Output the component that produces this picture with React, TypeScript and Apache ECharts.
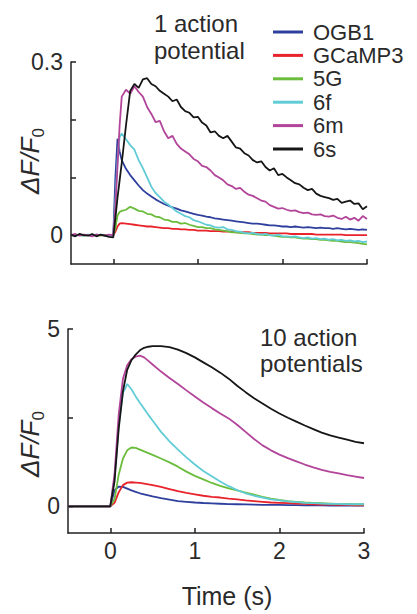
import React, { useEffect, useRef } from "react";
import * as echarts from "echarts";

const FONT = '"Liberation Sans", Arial, Helvetica, sans-serif';

const NAMES = ["OGB1", "GCaMP3", "5G", "6f", "6m", "6s"];
const COLORS = ["#2f3f9e", "#e8232b", "#6cbd3e", "#62ccd6", "#b2449a", "#161616"];

// ---- Top panel: 1 action potential (time in s) ----
const T1 = [
  -0.5, -0.45, -0.4, -0.35, -0.3, -0.25, -0.2, -0.15, -0.1, -0.05, 0,
  0.025, 0.05, 0.075, 0.1,
  0.15, 0.2, 0.25, 0.3, 0.35, 0.4, 0.45, 0.5, 0.55, 0.6, 0.65, 0.7, 0.75, 0.8, 0.85, 0.9, 0.95, 1.0,
  1.05, 1.1, 1.15, 1.2, 1.25, 1.3, 1.35, 1.4, 1.45, 1.5, 1.55, 1.6, 1.65, 1.7, 1.75, 1.8, 1.85, 1.9, 1.95, 2.0,
  2.05, 2.1, 2.15, 2.2, 2.25, 2.3, 2.35, 2.4, 2.45, 2.5, 2.55, 2.6, 2.65, 2.7, 2.75, 2.8, 2.85, 2.9, 2.95, 3.0,
];

const OGB1_1AP = [
  0, -0.001, 0.001, 0, 0, -0.001, 0.001, 0, 0, -0.001, 0,
  0.1, 0.167, 0.145, 0.13,
  0.115, 0.104, 0.095, 0.086, 0.078, 0.072, 0.067, 0.062, 0.058, 0.054, 0.051, 0.048, 0.046, 0.043, 0.041, 0.039, 0.037, 0.035,
  0.034, 0.032, 0.031, 0.029, 0.028, 0.027, 0.026, 0.025, 0.024, 0.023, 0.022, 0.021, 0.02, 0.02, 0.019, 0.018, 0.017, 0.017, 0.016, 0.015,
  0.015, 0.014, 0.015, 0.014, 0.013, 0.014, 0.013, 0.012, 0.013, 0.012, 0.012, 0.011, 0.012, 0.011, 0.01, 0.011, 0.01, 0.009, 0.01, 0.009,
];
const GCAMP3_1AP = [
  0, 0, 0, 0, 0, 0, 0, 0, 0, 0, 0,
  0.006, 0.015, 0.02, 0.021,
  0.02, 0.019, 0.018, 0.017, 0.016, 0.015, 0.015, 0.014, 0.013, 0.012, 0.012, 0.011, 0.011, 0.01, 0.01, 0.009, 0.009, 0.008,
  0.008, 0.008, 0.007, 0.007, 0.007, 0.006, 0.006, 0.006, 0.005, 0.005, 0.005, 0.005, 0.004, 0.004, 0.004, 0.004, 0.003, 0.003, 0.003, 0.003,
  0.003, 0.002, 0.002, 0.002, 0.002, 0.002, 0.002, 0.001, 0.001, 0.001, 0.001, 0.001, 0.001, 0.001, 0, 0, 0, 0, 0, 0,
];
const G5_1AP = [
  0, 0.001, 0, -0.001, 0, 0.001, 0, -0.001, 0, 0, 0,
  0.012, 0.034, 0.04, 0.042,
  0.044, 0.049, 0.046, 0.042, 0.041, 0.037, 0.036, 0.032, 0.031, 0.027, 0.026, 0.023, 0.023, 0.02, 0.021, 0.018, 0.016, 0.014,
  0.014, 0.012, 0.012, 0.01, 0.009, 0.008, 0.007, 0.005, 0.005, 0.004, 0.003, 0.003, 0.002, 0.001, 0.001, 0, 0, -0.001, -0.002, -0.003,
  -0.003, -0.004, -0.004, -0.005, -0.006, -0.006, -0.007, -0.007, -0.008, -0.008, -0.009, -0.01, -0.01, -0.011, -0.012, -0.012, -0.013, -0.014, -0.015, -0.016,
];
const F6_1AP = [
  0, 0.001, 0, -0.001, 0.001, 0, 0, 0.001, -0.001, 0, 0,
  0.06, 0.13, 0.17, 0.176,
  0.166, 0.156, 0.148, 0.13, 0.116, 0.1, 0.084, 0.073, 0.066, 0.058, 0.053, 0.047, 0.041, 0.037, 0.033, 0.031, 0.026, 0.024,
  0.021, 0.018, 0.017, 0.014, 0.013, 0.014, 0.01, 0.009, 0.007, 0.006, 0.004, 0.003, 0.004, 0.002, 0.001, 0.002, 0, -0.001, 0.001, -0.002,
  -0.002, -0.003, -0.002, -0.004, -0.005, -0.004, -0.006, -0.005, -0.007, -0.006, -0.008, -0.007, -0.009, -0.008, -0.01, -0.009, -0.011, -0.01, -0.012, -0.011,
];
const M6_1AP = [
  0, 0.002, -0.001, 0.001, 0, -0.002, 0.001, 0, -0.001, 0.001, 0,
  0.05, 0.12, 0.19, 0.24,
  0.252, 0.245, 0.258, 0.248, 0.24, 0.222, 0.21, 0.196, 0.198, 0.18, 0.168, 0.172, 0.158, 0.15, 0.145, 0.14, 0.132, 0.128,
  0.12, 0.118, 0.112, 0.104, 0.1, 0.095, 0.088, 0.085, 0.08, 0.082, 0.075, 0.07, 0.068, 0.064, 0.06, 0.058, 0.052, 0.049, 0.046, 0.047,
  0.044, 0.042, 0.043, 0.04, 0.038, 0.039, 0.036, 0.035, 0.036, 0.033, 0.032, 0.034, 0.03, 0.028, 0.032, 0.027, 0.03, 0.025, 0.033, 0.028,
];
const S6_1AP = [
  0.001, -0.002, 0.002, 0, -0.001, 0.002, -0.002, 0.001, -0.001, -0.003, -0.004,
  0.03, 0.065, 0.095, 0.125,
  0.19, 0.25, 0.262, 0.255, 0.27, 0.272, 0.262, 0.258, 0.25, 0.245, 0.24, 0.232, 0.235, 0.222, 0.215, 0.212, 0.204, 0.205,
  0.195, 0.19, 0.178, 0.18, 0.172, 0.168, 0.172, 0.162, 0.152, 0.15, 0.142, 0.138, 0.13, 0.126, 0.128, 0.118, 0.112, 0.116, 0.104, 0.106,
  0.1, 0.095, 0.09, 0.088, 0.082, 0.078, 0.08, 0.072, 0.068, 0.066, 0.064, 0.061, 0.063, 0.056, 0.058, 0.06, 0.054, 0.055, 0.045, 0.05,
];

// ---- Bottom panel: 10 action potentials ----
const T2 = [
  -0.5, -0.25, 0,
  0.05, 0.1, 0.15, 0.2, 0.25, 0.3, 0.35, 0.4, 0.45, 0.5,
  0.6, 0.7, 0.8, 0.9, 1.0, 1.1, 1.2, 1.3, 1.4, 1.5, 1.6, 1.7, 1.8, 1.9, 2.0,
  2.1, 2.2, 2.3, 2.4, 2.5, 2.6, 2.7, 2.8, 2.9, 3.0,
];
const OGB1_10AP = [
  0, 0, 0,
  0.45, 0.56, 0.55, 0.5, 0.45, 0.41, 0.37, 0.34, 0.31, 0.28,
  0.23, 0.19, 0.15, 0.13, 0.11, 0.095, 0.085, 0.075, 0.065, 0.06, 0.055, 0.05, 0.045, 0.04, 0.04,
  0.035, 0.035, 0.03, 0.03, 0.03, 0.025, 0.025, 0.02, 0.02, 0.02,
];
const GCAMP3_10AP = [
  0, 0, 0,
  0.1, 0.4, 0.6, 0.67, 0.68, 0.67, 0.66, 0.64, 0.62, 0.6,
  0.55, 0.49, 0.43, 0.38, 0.34, 0.3, 0.27, 0.25, 0.22, 0.2, 0.17, 0.15, 0.13, 0.11, 0.1,
  0.09, 0.08, 0.07, 0.06, 0.05, 0.05, 0.04, 0.04, 0.03, 0.03,
];
const G5_10AP = [
  0, 0, 0,
  0.2, 0.9, 1.35, 1.58, 1.66, 1.65, 1.6, 1.55, 1.5, 1.45,
  1.35, 1.24, 1.12, 0.98, 0.86, 0.76, 0.66, 0.58, 0.51, 0.45, 0.39, 0.33, 0.27, 0.22, 0.18,
  0.15, 0.13, 0.11, 0.1, 0.09, 0.08, 0.07, 0.07, 0.06, 0.06,
];
const F6_10AP = [
  0, 0, 0,
  0.8, 2.3, 3.2, 3.45, 3.3, 3.1, 2.92, 2.75, 2.58, 2.42,
  2.1, 1.83, 1.6, 1.38, 1.18, 1.0, 0.85, 0.7, 0.57, 0.46, 0.37, 0.3, 0.25, 0.2, 0.17,
  0.14, 0.12, 0.1, 0.09, 0.08, 0.07, 0.07, 0.06, 0.06, 0.06,
];
const M6_10AP = [
  0, 0, 0,
  0.9, 2.6, 3.6, 3.98, 4.15, 4.22, 4.25, 4.2, 4.1, 4.0,
  3.8, 3.62, 3.45, 3.27, 3.1, 2.93, 2.77, 2.62, 2.48, 2.3, 2.1, 1.9, 1.72, 1.58, 1.46,
  1.36, 1.27, 1.18, 1.1, 1.03, 0.97, 0.93, 0.88, 0.84, 0.8,
];
const S6_10AP = [
  0, 0, 0,
  0.7, 2.2, 3.25, 3.85, 4.12, 4.28, 4.4, 4.47, 4.5, 4.52,
  4.52, 4.49, 4.42, 4.32, 4.2, 4.06, 3.92, 3.77, 3.6, 3.4, 3.22, 3.05, 2.9, 2.75, 2.62,
  2.5, 2.39, 2.28, 2.18, 2.08, 2.0, 1.94, 1.88, 1.82, 1.78,
];

const X_TICKS = [0, 1, 2, 3];
const Y1_TICKS = [0, 0.1, 0.2, 0.3];
const Y1_LABELS = [0, 0.3];
const Y2_TICKS = [0, 2.5, 5];
const Y2_LABELS = [0, 5];

const TOP_SERIES = [OGB1_1AP, GCAMP3_1AP, G5_1AP, F6_1AP, M6_1AP, S6_1AP];
const BOTTOM_SERIES = [OGB1_10AP, GCAMP3_10AP, G5_10AP, F6_10AP, M6_10AP, S6_10AP];

const zip = (t: number[], v: number[]) => t.map((x, i) => [x, v[i]]);

export default function App() {
  const ref = useRef<HTMLDivElement>(null);

  useEffect(() => {
    if (!ref.current) return;
    const chart = echarts.init(ref.current, null, { renderer: "svg" });

    const axisColor = "#222";
    const textColor = "#2a2a2a";
    const lineAxis = { onZero: false, lineStyle: { color: axisColor, width: 1.5 } };
    const tick = (vals: number[]) => ({
      inside: true,
      length: 5,
      customValues: vals,
      lineStyle: { color: axisColor, width: 1.5 },
    });
    const label = (vals: number[], margin: number) => ({
      customValues: vals,
      fontSize: 23,
      color: textColor,
      fontFamily: FONT,
      margin,
      formatter: (v: number) => String(v),
    });

    const series: any[] = [];
    NAMES.forEach((name, i) => {
      series.push({
        name,
        type: "line",
        xAxisIndex: 0,
        yAxisIndex: 0,
        data: zip(T1, TOP_SERIES[i]),
        showSymbol: false,
        symbol: "none",
        color: COLORS[i],
        lineStyle: { color: COLORS[i], width: 1.8 },
      });
    });
    NAMES.forEach((name, i) => {
      series.push({
        name,
        type: "line",
        xAxisIndex: 1,
        yAxisIndex: 1,
        data: zip(T2, BOTTOM_SERIES[i]),
        showSymbol: false,
        symbol: "none",
        color: COLORS[i],
        lineStyle: { color: COLORS[i], width: 1.8 },
      });
    });

    const yName = (y: number) => ({
      type: "text",
      x: 30,
      y,
      rotation: Math.PI / 2,
      style: {
        text: "{a|ΔF/F}{b|0}",
        align: "center",
        verticalAlign: "middle",
        fill: textColor,
        rich: {
          a: { fontSize: 26, fontStyle: "italic", fontFamily: FONT, fill: textColor, lineHeight: 34, verticalAlign: "middle" },
          b: { fontSize: 17, fontFamily: FONT, fill: textColor, lineHeight: 34, verticalAlign: "bottom" },
        },
      },
    });

    const title = (x: number, y: number, lines: string[], gap: number) =>
      lines.map((t, k) => ({
        type: "text",
        x,
        y: y + k * gap,
        style: { text: t, fontSize: 24, fontFamily: FONT, fill: textColor, align: "left", verticalAlign: "middle" },
      }));

    chart.setOption({
      animation: false,
      backgroundColor: "#ffffff",
      color: COLORS,
      grid: [
        { left: 71, top: 62, width: 296, height: 202 },
        { left: 68, top: 329, width: 296, height: 204 },
      ],
      xAxis: [
        {
          gridIndex: 0, type: "value", min: -0.5, max: 3,
          axisLine: lineAxis, axisTick: tick(X_TICKS),
          axisLabel: { show: false }, splitLine: { show: false },
        },
        {
          gridIndex: 1, type: "value", min: -0.5, max: 3,
          axisLine: lineAxis, axisTick: tick(X_TICKS),
          axisLabel: label(X_TICKS, 6), splitLine: { show: false },
        },
      ],
      yAxis: [
        {
          gridIndex: 0, type: "value", min: -0.05, max: 0.3,
          axisLine: lineAxis, axisTick: tick(Y1_TICKS),
          axisLabel: label(Y1_LABELS, 8), splitLine: { show: false },
        },
        {
          gridIndex: 1, type: "value", min: -0.75, max: 5,
          axisLine: lineAxis, axisTick: tick(Y2_TICKS),
          axisLabel: label(Y2_LABELS, 8), splitLine: { show: false },
        },
      ],
      legend: {
        data: NAMES,
        orient: "vertical",
        left: 273,
        top: 21,
        padding: 0,
        itemWidth: 30,
        itemHeight: 3,
        itemGap: 1.4,
        icon: "rect",
        selectedMode: false,
        textStyle: { fontSize: 22, lineHeight: 22, color: textColor, fontFamily: FONT, padding: [0, 0, 0, 5] },
      },
      graphic: [
        ...title(154, 23, ["1 action", "potential"], 27),
        ...title(260, 337, ["10 action", "potentials"], 26),
        {
          type: "text", x: 227, y: 596,
          style: { text: "Time (s)", fontSize: 25, fontFamily: FONT, fill: textColor, align: "center", verticalAlign: "middle" },
        },
        yName(161),
        yName(444),
      ],
      series,
    });

    return () => chart.dispose();
  }, []);

  return (
    <div
      ref={ref}
      style={{ position: "fixed", left: 0, top: 0, width: 417, height: 614, background: "#fff" }}
    />
  );
}
